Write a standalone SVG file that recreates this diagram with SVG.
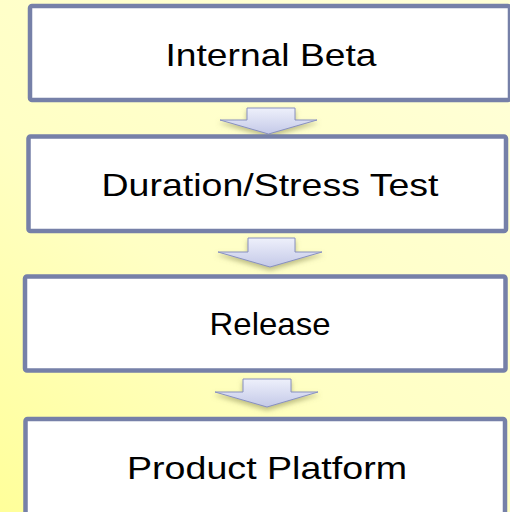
<svg xmlns="http://www.w3.org/2000/svg" width="510" height="512" viewBox="0 0 510 512">
  <defs>
    <linearGradient id="bg" x1="0.8" y1="0" x2="0" y2="1">
      <stop offset="0" stop-color="#ffffd6"/>
      <stop offset="0.55" stop-color="#ffffc4"/>
      <stop offset="1" stop-color="#ffff9a"/>
    </linearGradient>
    <linearGradient id="arr" x1="0" y1="0" x2="0" y2="1">
      <stop offset="0" stop-color="#eef0fb"/>
      <stop offset="1" stop-color="#c4c9e8"/>
    </linearGradient>
    <filter id="sh" x="-30%" y="-30%" width="160%" height="180%">
      <feGaussianBlur in="SourceAlpha" stdDeviation="2.5"/>
      <feOffset dx="0" dy="3" result="b"/>
      <feFlood flood-color="#8a8a50" flood-opacity="0.55"/>
      <feComposite in2="b" operator="in"/>
      <feMerge><feMergeNode/><feMergeNode in="SourceGraphic"/></feMerge>
    </filter>
  </defs>
  <style>
    .box { fill: #ffffff; stroke: #7680a8; stroke-width: 4.5; }
    .lbl { font-family: "Liberation Sans", Arial, sans-serif; font-size: 32px; fill: #000000; text-anchor: middle; }
    .arrow { fill: url(#arr); stroke: #8890c0; stroke-width: 1; stroke-linejoin: miter; filter: url(#sh); }
  </style>
  <rect x="0" y="0" width="510" height="512" fill="url(#bg)"/>

  <g id="connectors">
    <polygon class="arrow" points="247,108 295,108 295,120 317,120 268.5,134 220,120 247,120"/>
    <polygon class="arrow" points="248,238 295,238 295,252 322,252 270,267 218,252 248,252"/>
    <polygon class="arrow" points="243,379 291,379 291,392 318,392 267,407 215,392 243,392"/>
  </g>

  <g id="internal-beta">
    <rect class="box" x="30" y="6" width="480" height="94" rx="2"/>
    <text class="lbl" x="271" y="66" textLength="211" lengthAdjust="spacingAndGlyphs">Internal Beta</text>
  </g>
  <g id="duration-stress-test">
    <rect class="box" x="28.5" y="136.5" width="477.5" height="94.5" rx="2"/>
    <text class="lbl" x="270" y="196" textLength="337" lengthAdjust="spacingAndGlyphs">Duration/Stress Test</text>
  </g>
  <g id="release">
    <rect class="box" x="25" y="276.5" width="480.5" height="94" rx="2"/>
    <text class="lbl" x="270" y="335" textLength="121" lengthAdjust="spacingAndGlyphs">Release</text>
  </g>
  <g id="product-platform">
    <rect class="box" x="25.5" y="419" width="479.5" height="110" rx="2"/>
    <text class="lbl" x="267" y="479" textLength="280" lengthAdjust="spacingAndGlyphs">Product Platform</text>
  </g>
</svg>
